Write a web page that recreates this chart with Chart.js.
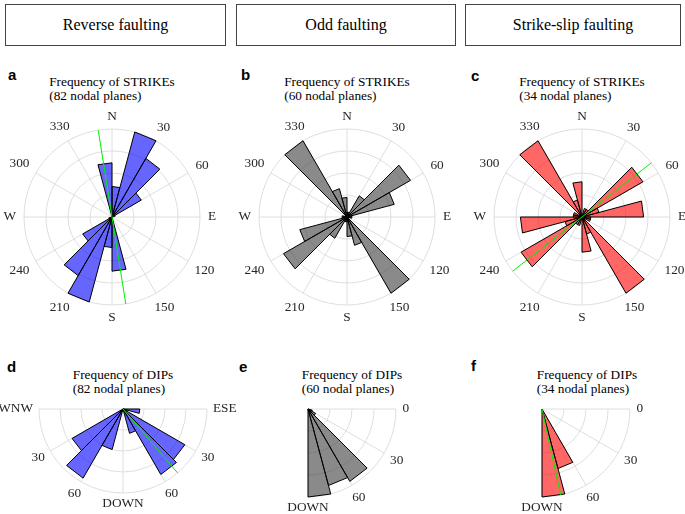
<!DOCTYPE html>
<html>
<head>
<meta charset="utf-8">
<script src="https://cdn.jsdelivr.net/npm/chart.js"></script>
<style>
  body { margin: 0; width: 685px; height: 514px; position: relative; overflow: hidden; background: #fff; font-family: 'Liberation Serif', serif; color: #000; }
  .box { position: absolute; top: 4px; height: 42px; border: 1px solid #444; box-sizing: border-box; display: flex; align-items: center; justify-content: center; font-size: 16px; }
  .letter { position: absolute; font: bold 15px 'Liberation Sans', Arial, sans-serif; line-height: 15px; }
  .title { position: absolute; font-size: 13.3px; line-height: 14px; white-space: nowrap; transform: translateX(-50%); text-align: left; }
  canvas { position: absolute; }
</style>
</head>
<body>
<div class="box" style="left:5px; width:221px;">Reverse faulting</div>
<div class="box" style="left:236px; width:220px;">Odd faulting</div>
<div class="box" style="left:465px; width:216px;">Strike-slip faulting</div>

<div class="letter" style="left:8px; top:67px;">a</div>
<div class="letter" style="left:241px; top:67px;">b</div>
<div class="letter" style="left:471px; top:68px;">c</div>
<div class="letter" style="left:7px; top:359px;">d</div>
<div class="letter" style="left:239px; top:359px;">e</div>
<div class="letter" style="left:471px; top:358px;">f</div>

<div class="title" style="left:112px; top:75px;">Frequency of STRIKEs<br>(82 nodal planes)</div>
<div class="title" style="left:347px; top:75px;">Frequency of STRIKEs<br>(60 nodal planes)</div>
<div class="title" style="left:582px; top:75px;">Frequency of STRIKEs<br>(34 nodal planes)</div>
<div class="title" style="left:123px; top:368px;">Frequency of DIPs<br>(82 nodal planes)</div>
<div class="title" style="left:352px; top:368px;">Frequency of DIPs<br>(60 nodal planes)</div>
<div class="title" style="left:587px; top:368px;">Frequency of DIPs<br>(34 nodal planes)</div>

<canvas id="a"></canvas>
<canvas id="b"></canvas>
<canvas id="c"></canvas>
<canvas id="d"></canvas>
<canvas id="e"></canvas>
<canvas id="f"></canvas>

<script>
// 15 degree bins, clockwise from north
const bins = Array.from({ length: 24 }, (_, i) => `${i * 15}-${i * 15 + 15}`);

// strike counts per bin (strike and strike+180 both plotted)
const reverseStrike    = [9, 26, 20, 10, 1, 0, 0, 0, 0, 0, 0, 16, 9, 26, 20, 10, 1, 0, 0, 0, 0, 0, 0, 16];
const oddStrike        = [1, 1, 5, 15, 10, 1, 1, 0, 0, 18, 6, 4, 1, 1, 5, 15, 10, 1, 1, 0, 0, 18, 6, 4];
const strikeSlipStrike = [0, 1, 1, 8, 2, 7, 1, 1, 0, 10, 2, 4, 0, 1, 1, 8, 2, 7, 1, 1, 0, 10, 2, 4];

// dip counts, bins 0-15 ... 75-90 degrees
const reverseDipESE    = [4, 1, 17, 18, 6, 0];
const reverseDipWNW    = [0, 0, 14, 19, 10, 0];
const oddDip           = [0, 1, 2, 19, 18, 20];
const strikeSlipDip    = [0, 0, 0, 0, 14, 20];

// mean directions (green lines)
const meanStrike = [171, null, 52];
const meanDip    = [49.5, null, 77.7];

// tick labels every 30 degrees
const strikeTicks  = ['N', '30', '60', 'E', '120', '150', 'S', '210', '240', 'W', '300', '330'];
const dipTicksBoth = ['ESE', '30', '60', 'DOWN', '60', '30', 'WNW'];
const dipTicksOne  = ['0', '30', '60', 'DOWN'];

const blue = 'rgba(0, 0, 255, 0.6)';
const gray = 'rgba(60, 60, 60, 0.6)';
const red = 'rgba(255, 0, 0, 0.6)';
const gridColor = '#dedede';
const M = 50;

// put dip bins on the compass: ESE side starts at 90, WNW side ends at 270
function dipSeries(ese, wnw) {
    const out = new Array(24).fill(0);
    ese.forEach((v, k) => { out[6 + k] = v; });
    if (wnw) wnw.forEach((v, k) => { out[17 - k] = v; });
    return out;
}

function roseExtras(p) {
    const rad = (deg) => deg * Math.PI / 180;
    return {
        id: 'roseExtras',
        beforeDatasetsDraw(chart) {
            if (p.span[1] - p.span[0] >= 360) return;
            const s = chart.scales.r;
            const ctx = chart.ctx;
            ctx.save();
            ctx.strokeStyle = gridColor;
            ctx.lineWidth = 1;
            s.ticks.forEach((t) => {
                if (t.value <= 0) return;
                const r = s.getDistanceFromCenterForValue(t.value);
                ctx.beginPath();
                ctx.arc(s.xCenter, s.yCenter, r, rad(p.span[0] - 90), rad(p.span[1] - 90));
                ctx.stroke();
            });
            ctx.restore();
        },
        afterDatasetsDraw(chart) {
            if (p.mean == null) return;
            const s = chart.scales.r;
            const ctx = chart.ctx;
            const R = s.drawingArea;
            ctx.save();
            ctx.strokeStyle = '#00ee00';
            ctx.lineWidth = 1;
            ctx.beginPath();
            if (p.axial) {
                const p1 = s.getPointPosition(0, R, rad(p.mean));
                const p2 = s.getPointPosition(0, R, rad(p.mean + 180));
                ctx.moveTo(p1.x, p1.y);
                ctx.lineTo(p2.x, p2.y);
            } else {
                const p1 = s.getPointPosition(0, R, rad(90 + p.mean));
                ctx.moveTo(s.xCenter, s.yCenter);
                ctx.lineTo(p1.x, p1.y);
            }
            ctx.stroke();
            ctx.restore();
        },
        afterDraw(chart) {
            const s = chart.scales.r;
            const ctx = chart.ctx;
            ctx.save();
            ctx.font = '13.3px "Liberation Serif"';
            ctx.fillStyle = '#262626';
            ctx.textAlign = 'center';
            ctx.textBaseline = 'middle';
            p.ticks.forEach((text, j) => {
                const idx = ((p.tickStart + 30 * j) / 15) % 24;
                const phi = s.getIndexAngle(idx) - Math.PI / 2;
                const w = ctx.measureText(text).width;
                const h = 8.8;
                const d = s.drawingArea + p.pad + 0.5 * w * Math.abs(Math.cos(phi)) + 0.5 * h * Math.abs(Math.sin(phi));
                const pos = s.getPointPosition(idx, d);
                ctx.fillText(text, pos.x, pos.y);
            });
            ctx.restore();
        }
    };
}

function rose(p) {
    const canvas = document.getElementById(p.id);
    const size = 2 * p.R + 2 * M;
    canvas.width = size;
    canvas.height = size;
    canvas.style.left = (p.cx - p.R - M) + 'px';
    canvas.style.top = (p.cy - p.R - M) + 'px';
    const full = p.span[1] - p.span[0] >= 360;
    const inSpan = (i) => i % 2 === 0 && i * 15 >= p.span[0] && i * 15 <= p.span[1];

    new Chart(canvas, {
        type: 'polarArea',
        data: {
            labels: bins,
            datasets: [{
                data: p.data,
                backgroundColor: p.color,
                borderColor: '#000',
                borderWidth: 1,
                circular: false
            }]
        },
        options: {
            responsive: false,
            animation: false,
            events: [],
            layout: { padding: M },
            plugins: { legend: { display: false }, tooltip: { enabled: false } },
            scales: {
                r: {
                    min: 0,
                    max: p.max,
                    startAngle: 0,
                    ticks: { display: false, count: 5 },
                    grid: { display: full, color: gridColor, lineWidth: 1, circular: true },
                    angleLines: {
                        display: true,
                        color: gridColor,
                        lineWidth: (c) => (full ? c.index % 2 === 0 : inSpan(c.index)) ? 1 : 0
                    },
                    pointLabels: { display: false }
                }
            }
        },
        plugins: [roseExtras(p)]
    });
}

function drawAll() {
    rose({ id: 'a', cx: 112, cy: 217, R: 88, max: 26, data: reverseStrike, color: blue,
           ticks: strikeTicks, tickStart: 0, span: [0, 360], mean: meanStrike[0], axial: true, pad: 8 });
    rose({ id: 'b', cx: 347, cy: 217, R: 88, max: 18, data: oddStrike, color: gray,
           ticks: strikeTicks, tickStart: 0, span: [0, 360], mean: meanStrike[1], axial: true, pad: 8 });
    rose({ id: 'c', cx: 582, cy: 217, R: 88, max: 10, data: strikeSlipStrike, color: red,
           ticks: strikeTicks, tickStart: 0, span: [0, 360], mean: meanStrike[2], axial: true, pad: 8 });
    rose({ id: 'd', cx: 123, cy: 409, R: 84, max: 20, data: dipSeries(reverseDipESE, reverseDipWNW), color: blue,
           ticks: dipTicksBoth, tickStart: 90, span: [90, 270], mean: meanDip[0], axial: false, pad: 6 });
    rose({ id: 'e', cx: 308, cy: 409, R: 88, max: 20, data: dipSeries(oddDip), color: gray,
           ticks: dipTicksOne, tickStart: 90, span: [90, 180], mean: meanDip[1], axial: false, pad: 6.5 });
    rose({ id: 'f', cx: 542, cy: 409, R: 88, max: 20, data: dipSeries(strikeSlipDip), color: red,
           ticks: dipTicksOne, tickStart: 90, span: [90, 180], mean: meanDip[2], axial: false, pad: 6.5 });
}

// make sure the serif face is ready before canvas text is drawn
document.fonts.load('13.3px "Liberation Serif"').then(drawAll, drawAll);
</script>
</body>
</html>
